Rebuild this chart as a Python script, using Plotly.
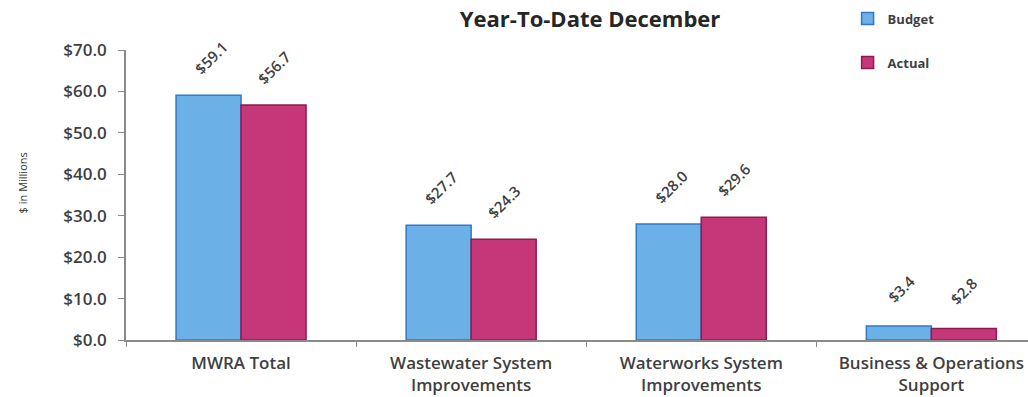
import plotly.graph_objects as go

# Year-to-date spending by program area ($ millions)
categories = ["MWRA Total", "Wastewater System<br>Improvements",
              "Waterworks System<br>Improvements", "Business & Operations<br>Support"]
budget = [59.1, 27.7, 28.0, 3.4]
actual = [56.7, 24.3, 29.6, 2.8]
y_ticks = [0, 10, 20, 30, 40, 50, 60, 70]
y_tick_labels = ["$%.1f" % v for v in y_ticks]

FONT = "Open Sans"
TEXT = "#3f3f3f"
BAR_PX = 65  # width of one bar in pixels, used to centre the value labels

fig = go.Figure()
fig.add_trace(go.Bar(
    name="Budget", x=categories, y=budget, legendgroup="b",
    marker=dict(color="#6cb0e8", line=dict(color="#3079c6", width=1.5)),
))
fig.add_trace(go.Bar(
    name="Actual", x=categories, y=actual, legendgroup="a",
    marker=dict(color="#c6377a", line=dict(color="#8c1d4e", width=1.5)),
))

# Rotated value labels above each bar
for series, shift in ((budget, -BAR_PX / 2 + 2), (actual, BAR_PX / 2)):
    for cat, val in zip(categories, series):
        fig.add_annotation(
            x=cat, y=val, xref="x", yref="y", text="$%.1f" % val,
            textangle=-45, showarrow=False, xanchor="center", yanchor="middle",
            xshift=shift, yshift=37,
            font=dict(family=FONT, size=15, color=TEXT, weight=600),
        )

fig.update_layout(
    width=1028, height=397,
    margin=dict(l=126, r=0, t=50, b=57),
    paper_bgcolor="white", plot_bgcolor="white",
    barmode="group", bargap=0.435, bargroupgap=0,
    font=dict(family=FONT, color=TEXT),
    showlegend=True,
    legend=dict(
        x=0.80, y=1.16, xanchor="left", yanchor="top",
        tracegroupgap=24,
        font=dict(family=FONT, size=13, color=TEXT, weight="bold"),
        bgcolor="rgba(0,0,0,0)",
    ),
    title=dict(
        text="Year-To-Date December", x=0.574, xanchor="center",
        y=0.97, yref="container", yanchor="top", pad=dict(t=0),
        font=dict(family=FONT, size=22, color="#262626", weight="bold"),
    ),
    xaxis=dict(
        range=[-0.5, 3.42], showline=True, linecolor="#8a8a8a", linewidth=1.5,
        ticks="outside", tickson="boundaries", ticklen=5, tickcolor="#8a8a8a",
        tickfont=dict(family=FONT, size=17, color=TEXT, weight=600),
        ticklabelstandoff=7,
        showgrid=False, automargin=False,
    ),
    yaxis=dict(
        range=[0, 70], tickvals=y_ticks, ticktext=y_tick_labels,
        showline=True, linecolor="#8a8a8a", linewidth=1.5,
        ticks="outside", ticklen=6, tickcolor="#8a8a8a",
        tickfont=dict(family=FONT, size=17, color=TEXT, weight=600),
        ticklabelstandoff=8,
        showgrid=False, zeroline=False, automargin=False,
    ),
)

# Vertical axis title
fig.add_annotation(
    text="$ in Millions", xref="paper", yref="paper", x=0, y=0.54,
    xanchor="center", yanchor="middle", xshift=-104, textangle=-90,
    showarrow=False, font=dict(family=FONT, size=11, color="#333333"),
)

fig.write_html("out.html")
